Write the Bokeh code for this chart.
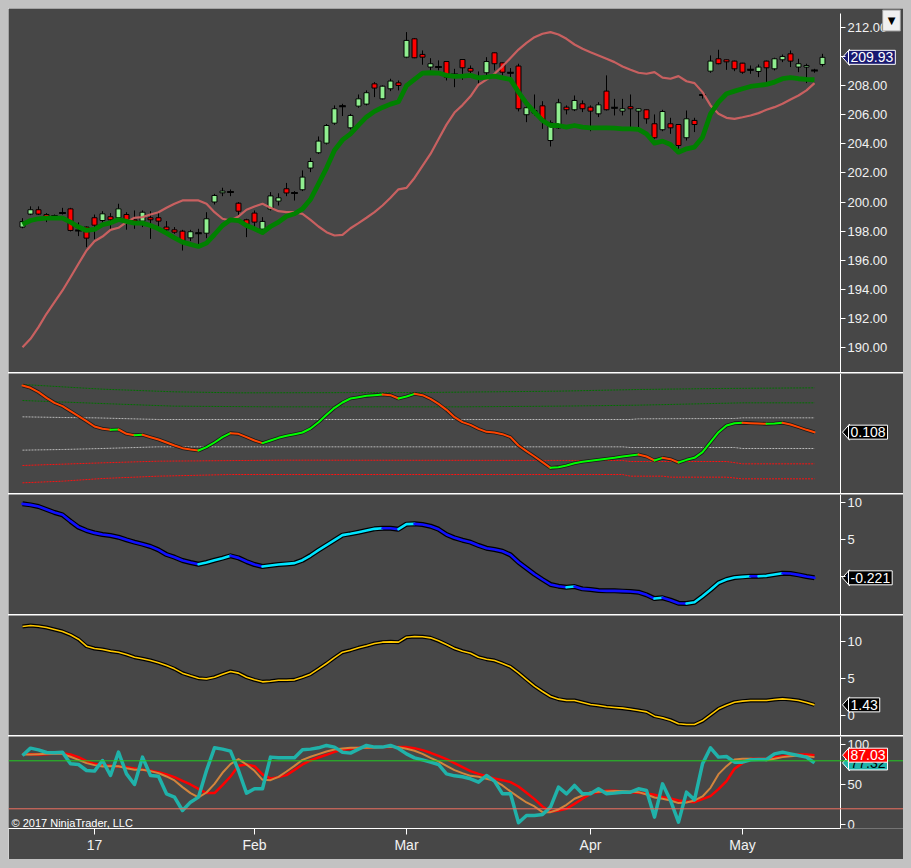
from bokeh.plotting import figure
from bokeh.models import Range1d, FixedTicker, PrintfTickFormatter, Label, Span, ColumnDataSource
from bokeh.layouts import column
from bokeh.embed import file_html
from bokeh.resources import INLINE

# ---------------- data ----------------
OPEN = [198.28, 199.17, 199.47, 199.14, 199.03, 199.24, 199.53, 198.05, 198.28, 198.92,
        198.73, 198.99, 198.92, 199.14, 198.78, 198.69, 198.92, 198.92, 198.28, 198.09,
        198.00, 197.54, 197.86, 197.86, 200.00, 200.63, 200.68, 199.92, 198.78, 199.24,
        198.14, 199.51, 200.06, 200.91, 200.61, 200.84, 202.33, 203.38, 204.04, 205.41,
        206.58, 205.09, 206.58, 206.72, 208.11, 207.08, 207.77, 208.18, 209.94, 211.20,
        210.13, 209.26, 209.26, 209.64, 208.75, 209.78, 209.17, 208.57, 208.87, 210.24,
        209.55, 208.87, 209.33, 205.99, 206.10, 206.60, 204.22, 205.09, 206.51, 206.33,
        206.74, 206.51, 206.05, 207.61, 206.47, 206.24, 206.54, 206.24, 206.33, 205.37,
        204.96, 205.37, 205.32, 204.41, 205.60, 207.35, 208.98, 209.83, 209.76, 209.67,
        209.53, 209.07, 208.96, 209.67, 209.14, 209.76, 210.17, 209.26, 209.26, 209.03,
        209.44]
HIGH = [198.89, 199.70, 199.70, 199.24, 199.14, 199.60, 199.60, 198.60, 198.32, 199.14,
        199.37, 199.24, 199.88, 199.30, 199.42, 199.42, 199.37, 199.30, 198.69, 198.28,
        198.09, 198.09, 198.16, 199.30, 200.56, 200.98, 200.86, 199.99, 198.85, 199.42,
        198.96, 200.68, 200.60, 201.31, 200.75, 202.17, 203.03, 204.50, 205.35, 206.63,
        206.74, 206.05, 207.38, 207.66, 208.23, 208.00, 208.46, 208.34, 211.66, 211.25,
        210.40, 209.87, 209.72, 209.66, 209.14, 209.80, 209.37, 208.96, 209.94, 210.26,
        209.57, 209.19, 209.49, 206.63, 207.38, 206.92, 205.60, 207.08, 206.63, 207.31,
        206.97, 206.63, 206.85, 208.69, 207.08, 207.08, 207.38, 206.45, 206.35, 206.01,
        206.33, 205.78, 205.35, 206.28, 205.78, 207.60, 210.06, 210.45, 209.78, 209.70,
        209.55, 209.37, 209.44, 209.70, 209.90, 210.12, 210.40, 209.83, 209.49, 209.14,
        210.17]
LOW = [198.20, 199.10, 199.12, 198.62, 198.96, 199.14, 197.98, 197.66, 196.90, 197.45,
       198.60, 198.05, 198.88, 198.10, 198.16, 198.28, 197.47, 198.16, 197.82, 197.82,
       196.67, 197.32, 197.09, 197.52, 199.83, 200.40, 200.40, 199.08, 197.59, 198.05,
       198.05, 199.42, 199.76, 200.40, 200.10, 200.75, 202.05, 203.30, 203.95, 205.30,
       205.90, 204.98, 206.47, 206.63, 207.20, 207.04, 207.61, 207.66, 209.87, 209.87,
       209.42, 209.03, 209.03, 208.34, 207.88, 208.39, 208.80, 208.11, 208.69, 209.03,
       208.69, 208.57, 206.22, 205.48, 205.94, 205.02, 203.81, 205.02, 206.01, 206.24,
       206.17, 204.86, 205.83, 206.28, 205.94, 205.94, 205.14, 205.14, 205.37, 204.34,
       204.86, 204.68, 203.65, 204.22, 204.80, 207.10, 208.87, 209.45, 209.07, 208.98,
       208.80, 208.80, 208.57, 208.23, 209.03, 209.60, 209.26, 208.91, 208.16, 208.87,
       209.30]
CLOSE = [198.66, 199.47, 199.17, 199.01, 199.03, 199.24, 198.05, 198.05, 197.52, 198.41,
         199.19, 198.78, 199.53, 198.69, 198.69, 199.30, 198.78, 198.69, 198.09, 197.93,
         197.32, 197.96, 197.86, 198.85, 200.45, 200.75, 200.68, 199.37, 198.46, 198.62,
         198.67, 200.42, 200.29, 200.62, 200.61, 201.71, 202.78, 204.18, 205.25, 206.40,
         206.58, 205.94, 207.08, 207.50, 207.82, 207.95, 208.30, 208.00, 211.09, 209.90,
         209.94, 209.49, 209.26, 208.57, 208.75, 209.21, 208.98, 208.57, 209.64, 209.49,
         208.91, 208.87, 206.40, 206.47, 206.28, 205.60, 205.44, 206.81, 206.33, 206.97,
         206.40, 206.24, 206.67, 206.33, 206.47, 206.40, 206.40, 206.40, 205.71, 204.41,
         206.21, 205.09, 203.88, 205.71, 205.32, 207.35, 209.67, 209.49, 209.62, 209.14,
         208.91, 209.07, 209.26, 209.21, 209.83, 209.99, 209.67, 209.49, 209.37, 209.03,
         209.93]

MA_GREEN = [198.46, 198.73, 198.85, 198.89, 198.89, 198.89, 198.62, 198.28, 198.05, 198.12,
            198.44, 198.57, 198.80, 198.67, 198.55, 198.55, 198.39, 198.16, 197.86, 197.54,
            197.25, 197.09, 196.95, 197.18, 197.77, 198.39, 198.78, 198.73, 198.39, 198.16,
            197.91, 198.32, 198.62, 199.02, 199.19, 199.53, 200.18, 201.25, 202.33, 203.55,
            204.26, 204.68, 205.28, 205.84, 206.22, 206.49, 206.72, 206.88, 207.98, 208.42,
            208.85, 208.87, 208.85, 208.69, 208.62, 208.64, 208.69, 208.52, 208.57, 208.64,
            208.52, 208.41, 207.54, 206.77, 206.17, 205.60, 205.25, 205.25, 205.14, 205.25,
            205.14, 205.09, 205.09, 205.09, 205.07, 205.02, 205.02, 204.98, 204.68, 204.04,
            204.18, 203.95, 203.42, 203.65, 203.77, 204.45, 206.05, 206.85, 207.43, 207.61,
            207.77, 207.93, 208.00, 208.07, 208.23, 208.46, 208.53, 208.46, 208.41, 208.39]
MA_RED = [190.04, 190.61, 191.41, 192.33, 193.13, 193.93, 194.84, 195.76, 196.67, 197.31,
          197.63, 198.09, 198.23, 198.62, 198.92, 198.96, 199.14, 199.30, 199.60, 199.88,
          200.11, 200.11, 200.11, 199.88, 199.30, 198.85, 198.73, 199.01, 199.47, 199.69,
          199.88, 199.60, 199.37, 199.30, 199.30, 199.19, 198.78, 198.32, 197.93, 197.70,
          197.74, 198.20, 198.55, 198.92, 199.30, 199.76, 200.29, 200.87, 200.97, 201.65,
          202.48, 203.30, 204.31, 205.31, 206.14, 206.65, 207.25, 208.05, 208.40, 208.80,
          209.31, 209.89, 210.46, 210.92, 211.31, 211.55, 211.66, 211.50, 211.20, 210.81,
          210.52, 210.28, 210.06, 209.83, 209.60, 209.30, 209.08, 208.87, 208.80, 208.91,
          208.53, 208.46, 208.64, 208.29, 208.16, 207.54, 206.63, 206.06, 205.78, 205.71,
          205.82, 205.94, 206.10, 206.33, 206.51, 206.74, 207.04, 207.31, 207.66, 208.16]

OSC = [0.388, 0.374, 0.348, 0.314, 0.284, 0.264, 0.234, 0.204, 0.174, 0.142,
       0.128, 0.122, 0.124, 0.098, 0.090, 0.092, 0.078, 0.064, 0.046, 0.028,
       0.012, 0.004, -0.002, 0.018, 0.046, 0.078, 0.102, 0.098, 0.078, 0.058,
       0.042, 0.058, 0.074, 0.086, 0.096, 0.106, 0.130, 0.168, 0.212, 0.254,
       0.286, 0.310, 0.318, 0.326, 0.330, 0.334, 0.330, 0.310, 0.322, 0.338,
       0.330, 0.308, 0.278, 0.242, 0.198, 0.168, 0.152, 0.128, 0.110, 0.106,
       0.096, 0.078, 0.028, -0.006, -0.038, -0.072, -0.106, -0.102, -0.092, -0.078,
       -0.070, -0.064, -0.058, -0.052, -0.046, -0.038, -0.032, -0.026, -0.038, -0.062,
       -0.046, -0.054, -0.074, -0.058, -0.046, -0.012, 0.048, 0.108, 0.148, 0.162,
       0.164, 0.162, 0.160, 0.158, 0.160, 0.164, 0.154, 0.138, 0.122, 0.108]
G1_X = [0, 10, 19, 27, 50, 67, 77, 87, 99]
G1_Y = [0.394, 0.366, 0.350, 0.344, 0.346, 0.354, 0.364, 0.370, 0.374]
G2_X = [0, 11, 19, 31, 55, 67, 77, 90, 99]
G2_Y = [0.298, 0.278, 0.264, 0.260, 0.260, 0.264, 0.270, 0.284, 0.284]
GR1_X = [0, 5, 9, 17, 76, 77, 89, 90, 99]
GR1_Y = [0.200, 0.196, 0.194, 0.184, 0.184, 0.188, 0.190, 0.194, 0.194]
GR2_X = [0, 5, 10, 17, 75, 76, 89, 90, 99]
GR2_Y = [0.000, 0.004, 0.010, 0.020, 0.020, 0.016, 0.016, 0.010, 0.010]
R1_X = [0, 10, 17, 33, 75, 76, 88, 90, 99]
R1_Y = [-0.092, -0.076, -0.066, -0.060, -0.062, -0.068, -0.068, -0.082, -0.082]
R2_X = [0, 5, 10, 17, 26, 75, 76, 80, 81, 88, 90, 99]
R2_Y = [-0.196, -0.186, -0.170, -0.156, -0.146, -0.146, -0.156, -0.156, -0.162,
        -0.162, -0.172, -0.172]

MOM = [9.87, 9.73, 9.51, 9.10, 8.69, 8.37, 7.51, 6.69, 6.23, 5.91,
       5.69, 5.55, 5.32, 4.96, 4.64, 4.37, 4.05, 3.59, 2.96, 2.59,
       2.14, 1.87, 1.64, 1.87, 2.18, 2.46, 2.78, 2.50, 2.00, 1.59,
       1.32, 1.46, 1.59, 1.68, 1.78, 2.18, 2.82, 3.55, 4.23, 4.91,
       5.60, 5.78, 6.00, 6.23, 6.46, 6.55, 6.55, 6.41, 7.10, 7.14,
       7.05, 6.82, 6.41, 5.69, 5.23, 4.91, 4.64, 4.19, 3.82, 3.64,
       3.41, 2.91, 1.91, 1.09, 0.27, -0.45, -1.13, -1.36, -1.50, -1.41,
       -1.73, -1.82, -1.95, -2.00, -2.00, -2.04, -2.09, -2.18, -2.54, -3.05,
       -2.95, -3.27, -3.68, -3.73, -3.55, -2.73, -1.86, -0.91, -0.45, -0.18,
       -0.09, 0.00, 0.00, 0.05, 0.23, 0.41, 0.37, 0.18, -0.04, -0.221]

TREND = [11.98, 12.11, 12.02, 11.84, 11.57, 11.30, 10.86, 10.27, 9.33, 9.02,
         8.88, 8.66, 8.52, 8.21, 7.85, 7.63, 7.40, 7.09, 6.73, 6.28,
         5.70, 5.34, 5.02, 4.93, 5.16, 5.56, 5.92, 5.70, 5.16, 4.80,
         4.53, 4.62, 4.75, 4.75, 4.80, 5.16, 5.56, 6.28, 7.00, 7.80,
         8.52, 8.79, 9.11, 9.38, 9.69, 9.87, 9.91, 9.87, 10.54, 10.63,
         10.59, 10.45, 10.05, 9.55, 9.02, 8.66, 8.39, 7.85, 7.58, 7.40,
         7.00, 6.55, 5.74, 4.84, 3.95, 3.23, 2.56, 2.20, 2.02, 2.02,
         1.75, 1.48, 1.34, 1.17, 1.08, 0.99, 0.85, 0.67, 0.49, -0.09,
         -0.32, -0.63, -1.12, -1.21, -1.21, -0.72, 0.09, 0.90, 1.39, 1.79,
         1.93, 2.02, 2.02, 2.02, 2.15, 2.24, 2.15, 2.02, 1.75, 1.43]

STOCH_K = [86.6, 95.8, 93.7, 90.4, 90.0, 90.8, 76.2, 75.4, 67.9, 67.1,
           80.4, 61.6, 90.8, 63.7, 50.4, 84.6, 61.6, 60.8, 38.7, 34.6,
           17.9, 28.3, 34.6, 67.9, 96.2, 94.6, 92.1, 67.9, 39.6, 45.0,
           45.0, 84.6, 83.7, 83.7, 83.7, 93.7, 94.6, 96.2, 99.2, 97.1,
           90.8, 89.6, 94.6, 99.2, 97.1, 97.1, 99.2, 95.4, 88.7, 83.7,
           81.2, 78.3, 75.4, 63.7, 61.2, 60.0, 57.5, 53.3, 61.6, 54.6,
           38.7, 38.7, 2.5, 11.6, 11.6, 12.9, 22.1, 47.1, 38.7, 49.2,
           38.7, 38.7, 45.0, 38.7, 39.6, 40.8, 40.8, 45.0, 42.9, 9.6,
           51.2, 30.4, 3.3, 40.8, 31.2, 76.2, 96.2, 84.6, 85.4, 78.3,
           78.3, 81.2, 81.6, 81.6, 88.7, 90.8, 88.7, 86.6, 84.6, 77.32]
STOCH_D = [87.9, 87.9, 88.3, 88.7, 89.2, 88.7, 85.0, 81.2, 77.1, 74.6,
           72.9, 73.3, 73.3, 70.8, 68.7, 68.7, 67.1, 64.6, 60.4, 55.4,
           47.1, 39.6, 34.2, 40.4, 51.2, 65.0, 75.8, 82.1, 75.4, 67.5,
           56.2, 55.8, 60.0, 66.6, 73.7, 81.2, 85.0, 88.3, 91.6, 94.2,
           95.4, 96.2, 96.2, 96.2, 96.6, 97.1, 97.1, 97.1, 95.0, 92.5,
           88.7, 83.7, 79.2, 73.7, 68.3, 64.6, 61.2, 60.0, 57.5, 55.0,
           49.2, 41.6, 34.6, 27.9, 22.9, 15.8, 15.8, 19.2, 25.0, 32.5,
           36.6, 40.8, 41.2, 41.6, 42.1, 42.1, 41.6, 40.8, 37.9, 34.2,
           32.5, 30.4, 27.1, 27.9, 30.4, 35.4, 46.2, 63.3, 73.3, 81.6,
           82.5, 82.5, 81.6, 80.8, 82.5, 84.6, 85.8, 86.6, 85.8, 84.6]
STOCH_SLOW = [88.7, 88.3, 87.9, 88.3, 89.2, 89.6, 87.9, 84.6, 79.6, 76.2,
              74.6, 73.7, 72.9, 72.1, 70.4, 68.7, 67.5, 65.8, 62.9, 59.6,
              55.0, 50.4, 45.0, 39.6, 39.6, 49.6, 60.4, 73.7, 75.4, 73.3,
              62.9, 57.9, 59.6, 62.1, 68.7, 75.4, 80.4, 84.2, 87.5, 91.2,
              93.7, 95.0, 96.2, 96.2, 96.6, 97.1, 97.1, 97.1, 97.1, 95.8,
              93.3, 90.0, 86.2, 82.1, 77.1, 72.1, 67.1, 63.7, 60.8, 57.9,
              55.8, 53.3, 47.9, 40.0, 32.1, 22.9, 16.2, 17.9, 20.0, 26.2,
              32.5, 38.7, 40.8, 42.5, 42.5, 41.6, 40.8, 40.0, 39.2, 37.5,
              34.6, 32.9, 30.4, 29.2, 28.3, 32.1, 35.8, 44.6, 54.6, 70.0,
              77.1, 82.5, 82.5, 82.5, 84.2, 85.4, 86.6, 87.9, 87.9, 87.03]
STOCH_UPPER = 80
STOCH_LOWER = 20

PRICE_TICKS = [190, 192, 194, 196, 198, 200, 202, 204, 206, 208, 210, 212]
MOM_TICKS = [0, 5, 10]
TREND_TICKS = [0, 5, 10]
STOCH_TICKS = [0, 50, 100]
MONTH_TICKS = [9, 29, 48, 71, 90]
MONTH_LABELS = ["17", "Feb", "Mar", "Apr", "May"]

# ---------------- style ----------------
BG = "#474747"
FONT = "Liberation Sans"
TXT = "#f2f2f2"
N = len(CLOSE)
IDX = list(range(N))
LIDX = list(range(len(MA_GREEN)))
X_START = -1.75          # left edge of the plotting area, in bars
AXIS_X = 102.25          # bar position where the value axis sits
X_END = 110.125          # right edge of the panel, in bars
BAR_PX = 8.0             # pixels per bar

xr = Range1d(X_START, X_END)


def base_fig(h, y0, y1, ticks, bottom=0, xaxis=False, bounds="auto"):
    p = figure(width=895, height=h, x_range=xr, y_range=Range1d(y0, y1),
               output_backend="svg", toolbar_location=None,
               x_axis_location="below" if xaxis else None, y_axis_location="right",
               min_border_left=0, min_border_right=0, min_border_top=0,
               min_border_bottom=bottom)
    p.background_fill_color = BG
    p.border_fill_color = BG
    p.outline_line_color = None
    p.grid.visible = False
    ax = p.yaxis[0]
    ax.fixed_location = AXIS_X
    ax.bounds = bounds
    ax.ticker = FixedTicker(ticks=ticks)
    ax.axis_line_color = "white"
    ax.major_tick_line_color = "white"
    ax.major_tick_out = 5
    ax.major_tick_in = 0
    ax.minor_tick_line_color = None
    ax.major_label_text_color = TXT
    ax.major_label_text_font = FONT
    ax.major_label_text_font_size = "13px"
    ax.major_label_standoff = 2
    return p


def val_label(p, frame_h, y, text, bg, fg="white"):
    # arrow-shaped value marker: a pointer triangle plus a boxed label
    rng = p.y_range
    k = (rng.end - rng.start) / frame_h
    tip = AXIS_X + 2 / BAR_PX
    base = AXIS_X + 9 / BAR_PX
    p.patch([tip, base, base], [y, y + 8 * k, y - 8 * k],
            fill_color=bg, line_color="white", line_width=1)
    p.add_layout(Label(x=840, y=y, x_units="screen", y_units="data", text=text,
                       text_color=fg, text_font=FONT, text_font_size="14px",
                       text_baseline="middle", text_align="left",
                       background_fill_color=bg, border_line_color="white",
                       border_line_width=1, padding=2))


def dir_runs(vals, up, down):
    xs, ys, cs = [], [], []
    cx, cy, cc = None, None, None
    for i in range(1, len(vals)):
        c = up if vals[i] > vals[i - 1] else down
        if c == cc:
            cx.append(i)
            cy.append(vals[i])
        else:
            if cc is not None:
                xs.append(cx); ys.append(cy); cs.append(cc)
            cx, cy, cc = [i - 1, i], [vals[i - 1], vals[i]], c
    xs.append(cx); ys.append(cy); cs.append(cc)
    return ColumnDataSource(dict(xs=xs, ys=ys, c=cs))


# ---- panel 1: price ----
p1 = base_fig(364, 188.30, 213.28, PRICE_TICKS, bounds=(188.3, 212.95))
p1.yaxis[0].formatter = PrintfTickFormatter(format="%.2f")
tops = [max(o, c) for o, c in zip(OPEN, CLOSE)]
bots = [min(o, c) for o, c in zip(OPEN, CLOSE)]
fills = ["#90ee90" if c > o else "#ff0000" for o, c in zip(OPEN, CLOSE)]
p1.segment(x0=IDX, y0=LOW, x1=IDX, y1=HIGH, line_color="black", line_width=1)
p1.vbar(x=IDX, width=0.62, top=tops, bottom=bots, fill_color=fills,
        line_color="black", line_width=1)
dx = [i for i in IDX if OPEN[i] == CLOSE[i]]
dy = [CLOSE[i] for i in dx]
p1.segment(x0=[x - 0.42 for x in dx], y0=dy, x1=[x + 0.42 for x in dx], y1=dy,
           line_color="black", line_width=2)
p1.line(LIDX, MA_RED, line_color="#d06262", line_width=2.2, line_alpha=0.95)
p1.line(LIDX, MA_GREEN, line_color="#008000", line_width=4.8, line_join="round")
val_label(p1, 364, CLOSE[-1], "%.2f" % CLOSE[-1], "#191970")
p1.add_layout(Label(x=883, y=352, x_units="screen", y_units="screen", text="\u25bc",
                    text_color="black", text_font="DejaVu Sans", text_font_size="10px",
                    text_align="center", text_baseline="middle",
                    background_fill_color="#f0f0f0", border_line_color="#9a9a9a",
                    padding=5))

# ---- panel 2: oscillator with bands ----
p2 = base_fig(120, -0.26, 0.46, [])
for bx, by, col in [(G1_X, G1_Y, "#007000"), (G2_X, G2_Y, "#007000"),
                    (GR1_X, GR1_Y, "#b8b8b8"), (GR2_X, GR2_Y, "#b8b8b8"),
                    (R1_X, R1_Y, "#ff1010"), (R2_X, R2_Y, "#ff1010")]:
    p2.line(bx, by, line_color=col, line_width=1, line_dash="2 1")
p2.line(LIDX, OSC, line_color="#1a1a1a", line_width=3.6, line_join="round")
p2.multi_line("xs", "ys", line_color="c", line_width=2.0, line_join="round",
              line_cap="round", source=dir_runs(OSC, "#00ff00", "#ff4500"))
val_label(p2, 120, OSC[-1], "%.3f" % OSC[-1], "black")

# ---- panel 3 ----
p3 = base_fig(120, -5.225, 11.146, MOM_TICKS)
p3.line(LIDX, MOM, line_color="black", line_width=5, line_join="round")
p3.multi_line("xs", "ys", line_color="c", line_width=2.6, line_join="round",
              line_cap="round", source=dir_runs(MOM, "#00e5ff", "#1010ff"))
val_label(p3, 120, MOM[-1], "%.3f" % MOM[-1], "black")

# ---- panel 4 ----
p4 = base_fig(120, -2.692, 13.459, TREND_TICKS)
p4.line(LIDX, TREND, line_color="black", line_width=4, line_join="round")
p4.line(LIDX, TREND, line_color="#ffc800", line_width=1.6, line_join="round")
val_label(p4, 120, TREND[-1], "%.2f" % TREND[-1], "black")

# ---- panel 5: stochastics ----
p5 = base_fig(123, -4.625, 110.375, STOCH_TICKS, bottom=31, xaxis=True)
p5.add_layout(Span(location=STOCH_UPPER, dimension="width", line_color="#22cc22", line_width=1))
p5.add_layout(Span(location=STOCH_LOWER, dimension="width", line_color="#f07060", line_width=1))
p5.line(LIDX, STOCH_SLOW, line_color="#ff0000", line_width=2.5, line_join="round")
p5.line(LIDX, STOCH_D, line_color="#d2843c", line_width=2, line_join="round")
p5.line(LIDX, STOCH_K, line_color="#20b2aa", line_width=3.5, line_join="round")
val_label(p5, 92, STOCH_K[-1], "%.2f" % STOCH_K[-1], "#20b2aa", fg="black")
val_label(p5, 92, STOCH_SLOW[-1], "%.2f" % STOCH_SLOW[-1], "#ff0000")
p5.add_layout(Label(x=3, y=6, x_units="screen", y_units="screen",
                    text="\u00a9 2017 NinjaTrader, LLC", text_color="white",
                    text_font=FONT, text_font_size="11px", text_baseline="middle"))
xa = p5.xaxis[0]
xa.bounds = (X_START, AXIS_X)
xa.ticker = FixedTicker(ticks=MONTH_TICKS)
xa.major_label_overrides = dict(zip(MONTH_TICKS, MONTH_LABELS))
xa.axis_line_color = "white"
xa.major_tick_line_color = "white"
xa.major_tick_out = 6
xa.major_tick_in = 0
xa.minor_tick_line_color = None
xa.major_label_text_color = TXT
xa.major_label_text_font = FONT
xa.major_label_text_font_size = "14px"
xa.major_label_standoff = 2

layout = column(p1, p2, p3, p4, p5, spacing=1, styles={"background-color": "#ffffff"})
html = file_html(layout, INLINE, title="NinjaTrader chart")
html = html.replace("<head>", "<head><style>html body{margin:8px !important;background-color:#c2c2c2 !important;}</style>", 1)
open("out.html", "w").write(html)
